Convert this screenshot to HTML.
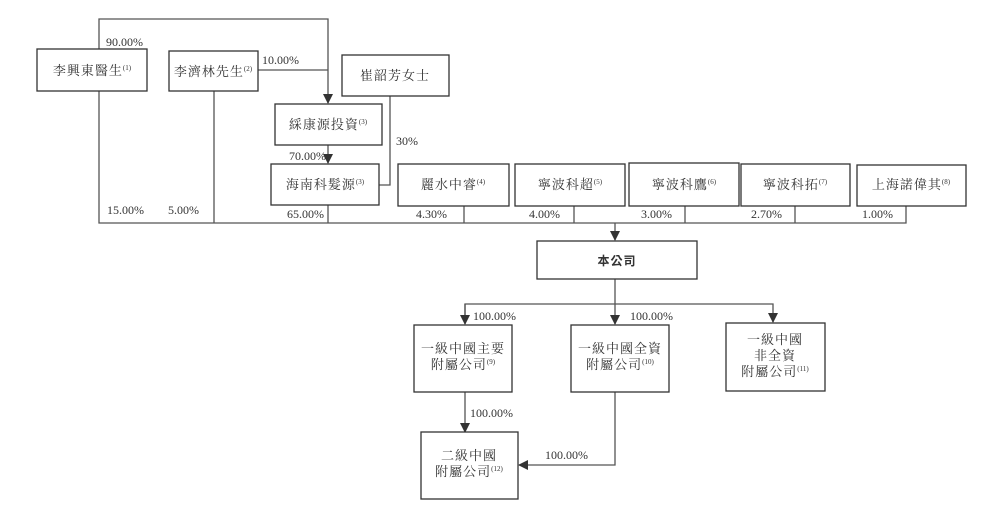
<!DOCTYPE html>
<html><head><meta charset="utf-8"><style>
html,body{margin:0;padding:0;background:#fff;}
svg{display:block;}
text{font-family:"Liberation Serif","Noto Serif CJK SC","Noto Sans CJK TC",serif;fill:#333;}
.b{fill:#fff;stroke:#333;stroke-width:1.3;}
.l{fill:none;stroke:#555;stroke-width:1.3;}
.t{font-size:13px;text-anchor:middle;letter-spacing:1px;}
.p{font-size:12px;}
.s{font-size:7px;letter-spacing:0;}
</style></head><body>
<svg width="989" height="514" viewBox="0 0 989 514" xmlns="http://www.w3.org/2000/svg">
<defs><marker id="a" markerWidth="10" markerHeight="10" refX="9" refY="5" orient="auto" markerUnits="userSpaceOnUse"><path d="M0,0 L10,5 L0,10 z" fill="#333"/></marker></defs>
<polyline class="l" points="99,49 99,19 328,19 328,103" marker-end="url(#a)"/>
<polyline class="l" points="258,70 328,70"/>
<polyline class="l" points="328,145 328,163" marker-end="url(#a)"/>
<polyline class="l" points="390,96 390,185 379,185"/>
<polyline class="l" points="99,91 99,223 906,223 906,206"/>
<line class="l" x1="214" y1="91" x2="214" y2="223"/>
<line class="l" x1="328" y1="205" x2="328" y2="223"/>
<line class="l" x1="464" y1="206" x2="464" y2="223"/>
<line class="l" x1="574" y1="206" x2="574" y2="223"/>
<line class="l" x1="685" y1="206" x2="685" y2="223"/>
<line class="l" x1="795" y1="206" x2="795" y2="223"/>
<line class="l" x1="615" y1="223" x2="615" y2="240" marker-end="url(#a)"/>
<line class="l" x1="615" y1="279" x2="615" y2="324" marker-end="url(#a)"/>
<polyline class="l" points="465,323 465,304 773,304 773,322" marker-end="url(#a)"/>
<line class="l" x1="465" y1="304" x2="465" y2="324" marker-end="url(#a)"/>
<line class="l" x1="465" y1="392" x2="465" y2="432" marker-end="url(#a)"/>
<polyline class="l" points="615,392 615,465 519,465" marker-end="url(#a)"/>
<rect class="b" x="37" y="49" width="110" height="42"/>
<rect class="b" x="169" y="51" width="89" height="40"/>
<rect class="b" x="342" y="55" width="107" height="41"/>
<rect class="b" x="275" y="104" width="107" height="41"/>
<rect class="b" x="271" y="164" width="108" height="41"/>
<rect class="b" x="398" y="164" width="111" height="42"/>
<rect class="b" x="515" y="164" width="110" height="42"/>
<rect class="b" x="629" y="163" width="110" height="43"/>
<rect class="b" x="741" y="164" width="109" height="42"/>
<rect class="b" x="857" y="165" width="109" height="41"/>
<rect class="b" x="537" y="241" width="160" height="38"/>
<rect class="b" x="414" y="325" width="98" height="67"/>
<rect class="b" x="571" y="325" width="98" height="67"/>
<rect class="b" x="726" y="323" width="99" height="68"/>
<rect class="b" x="421" y="432" width="97" height="67"/>
<text class="t" x="92" y="75">李興東醫生<tspan class="s" dy="-5">(1)</tspan></text>
<text class="t" x="213" y="76">李濟林先生<tspan class="s" dy="-5">(2)</tspan></text>
<text class="t" x="395" y="80">崔韶芳女士</text>
<text class="t" x="328" y="129">綵康源投資<tspan class="s" dy="-5">(3)</tspan></text>
<text class="t" x="325" y="189">海南科髮源<tspan class="s" dy="-5">(3)</tspan></text>
<text class="t" x="453" y="189">麗水中睿<tspan class="s" dy="-5">(4)</tspan></text>
<text class="t" x="570" y="189">寧波科超<tspan class="s" dy="-5">(5)</tspan></text>
<text class="t" x="684" y="189">寧波科鷹<tspan class="s" dy="-5">(6)</tspan></text>
<text class="t" x="795" y="189">寧波科拓<tspan class="s" dy="-5">(7)</tspan></text>
<text class="t" x="911" y="189">上海諾偉其<tspan class="s" dy="-5">(8)</tspan></text>
<text class="t" x="617" y="265" style="font-family:'Liberation Sans','Noto Sans CJK TC',sans-serif;font-weight:bold;font-size:12px">本公司</text>
<text class="t" x="463" y="353">一級中國主要</text>
<text class="t" x="463" y="369">附屬公司<tspan class="s" dy="-5">(9)</tspan></text>
<text class="t" x="620" y="353">一級中國全資</text>
<text class="t" x="620" y="369">附屬公司<tspan class="s" dy="-5">(10)</tspan></text>
<text class="t" x="775" y="344">一級中國</text>
<text class="t" x="775" y="360">非全資</text>
<text class="t" x="775" y="376">附屬公司<tspan class="s" dy="-5">(11)</tspan></text>
<text class="t" x="469" y="460">二級中國</text>
<text class="t" x="469" y="476">附屬公司<tspan class="s" dy="-5">(12)</tspan></text>
<text class="p" x="106" y="46">90.00%</text>
<text class="p" x="262" y="64">10.00%</text>
<text class="p" x="396" y="145">30%</text>
<text class="p" x="289" y="160">70.00%</text>
<text class="p" x="107" y="214">15.00%</text>
<text class="p" x="168" y="214">5.00%</text>
<text class="p" x="287" y="218">65.00%</text>
<text class="p" x="416" y="218">4.30%</text>
<text class="p" x="529" y="218">4.00%</text>
<text class="p" x="641" y="218">3.00%</text>
<text class="p" x="751" y="218">2.70%</text>
<text class="p" x="862" y="218">1.00%</text>
<text class="p" x="473" y="320">100.00%</text>
<text class="p" x="630" y="320">100.00%</text>
<text class="p" x="470" y="417">100.00%</text>
<text class="p" x="545" y="459">100.00%</text>
</svg>
</body></html>
